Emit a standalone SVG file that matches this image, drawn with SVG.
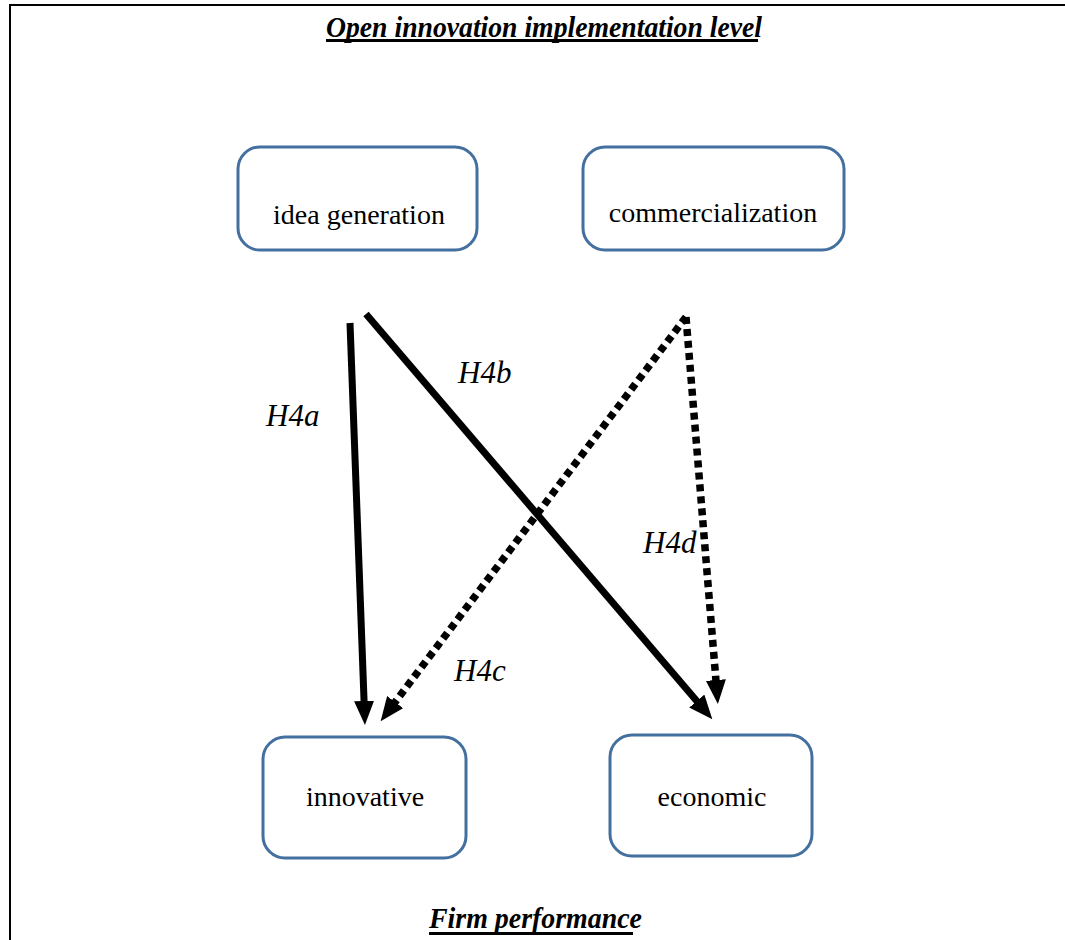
<svg xmlns="http://www.w3.org/2000/svg" width="1065" height="940" viewBox="0 0 1065 940">
<style>
.box{fill:#fff;stroke:#44709f;stroke-width:3}
.lbl{font-family:"Liberation Serif","Times New Roman",serif;font-size:28px;fill:#000;text-anchor:middle}
.h{font-family:"Liberation Serif","Times New Roman",serif;font-size:31px;font-style:italic;fill:#000}
.ttl{font-family:"Liberation Serif","Times New Roman",serif;font-size:30px;font-style:italic;font-weight:bold;fill:#000}
.solid{fill:none;stroke:#000;stroke-width:7}
.dot{fill:none;stroke:#000;stroke-width:7.5;stroke-dasharray:7 5}
</style>
<defs>
<marker id="ah" viewBox="0 -10 24 20" markerWidth="24" markerHeight="20" refX="1" refY="0" markerUnits="userSpaceOnUse" orient="auto">
<path d="M0,-10 L24,0 L0,10 z" fill="#000"/>
</marker>
</defs>
<rect width="1065" height="940" fill="#fff"/>
<g id="frame">
<line x1="9" y1="5" x2="1065" y2="5" stroke="#000" stroke-width="2"/>
<line x1="10" y1="4" x2="10" y2="940" stroke="#000" stroke-width="2"/>
</g>
<g id="title">
<text class="ttl" x="326" y="37" textLength="436" lengthAdjust="spacingAndGlyphs">Open innovation implementation level</text>
<rect x="326" y="39" width="432" height="3" fill="#000"/>
</g>
<g id="footer">
<text class="ttl" x="429" y="928" textLength="213" lengthAdjust="spacingAndGlyphs">Firm performance</text>
<rect x="429" y="932" width="204" height="3" fill="#000"/>
</g>
<g id="node-idea">
<rect class="box" x="238" y="147" width="239" height="103" rx="22"/>
<text class="lbl" x="359" y="224">idea generation</text>
</g>
<g id="node-commercialization">
<rect class="box" x="583" y="147" width="261" height="103" rx="22"/>
<text class="lbl" x="713" y="222">commercialization</text>
</g>
<g id="node-innovative">
<rect class="box" x="263" y="737" width="203" height="121" rx="22"/>
<text class="lbl" x="365" y="806">innovative</text>
</g>
<g id="node-economic">
<rect class="box" x="610" y="735" width="202" height="121" rx="22"/>
<text class="lbl" x="712" y="806">economic</text>
</g>
<g id="connectors">
<path class="solid" d="M350,323 L364.1,702" marker-end="url(#ah)"/>
<path class="solid" d="M366,314 L697.4,701.8" marker-end="url(#ah)"/>
<path class="dot" d="M686,317 L394.5,702.9" marker-end="url(#ah)"/>
<path class="dot" d="M686,317 L716,681" marker-end="url(#ah)"/>
</g>
<g id="labels">
<text class="h" x="266" y="426">H4a</text>
<text class="h" x="458" y="383">H4b</text>
<text class="h" x="454" y="681">H4c</text>
<text class="h" x="643" y="553">H4d</text>
</g>
</svg>
